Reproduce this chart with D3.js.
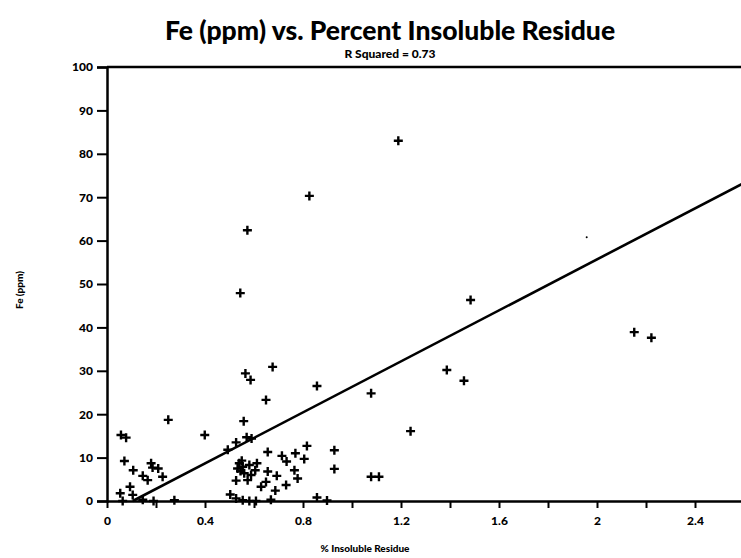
<!DOCTYPE html>
<html>
<head>
<meta charset="utf-8">
<script src="https://cdn.jsdelivr.net/npm/d3@7"></script>
<style>
  html, body { margin: 0; padding: 0; background: #fff; }
  svg { display: block; }
  text { font-family: Lato, "DejaVu Sans", sans-serif; font-weight: 900; fill: #000; }
</style>
</head>
<body>
<svg id="chart" width="741" height="558"></svg>
<script>
// ---- data ----
const titleText = "Fe (ppm) vs. Percent Insoluble Residue";
const subtitleText = "R Squared = 0.73";
const xAxisTitle = "% Insoluble Residue";
const yAxisTitle = "Fe (ppm)";

const xTickValues = [0, 0.2, 0.4, 0.6, 0.8, 1.0, 1.2, 1.4, 1.6, 1.8, 2.0, 2.2, 2.4, 2.6];
const xTickLabels = ["0", "", "0.4", "", "0.8", "", "1.2", "", "1.6", "", "2", "", "2.4", ""];
const yTickValues = [0, 10, 20, 30, 40, 50, 60, 70, 80, 90, 100];

const pointsX = [
  1.189, 0.826, 0.573, 0.544, 1.484, 2.152, 2.222, 0.676, 0.565, 0.586,
  1.387, 1.457, 0.857, 1.078, 0.649, 0.250, 0.558, 1.239, 0.399, 0.057,
  0.078, 0.570, 0.590, 0.527, 0.493, 0.656, 0.714, 0.769, 0.816, 0.928,
  0.733, 0.805, 0.928, 1.078, 1.110, 0.857, 0.898,
  0.540, 0.554, 0.533, 0.581, 0.612, 0.605, 0.560, 0.588, 0.656, 0.693,
  0.765, 0.778, 0.527, 0.574, 0.649, 0.629, 0.731, 0.687, 0.503, 0.527,
  0.554, 0.581, 0.608, 0.669, 0.550, 0.545,
  0.071, 0.107, 0.146, 0.166, 0.180, 0.186, 0.209, 0.227, 0.094, 0.054,
  0.105, 0.146, 0.064, 0.190, 0.275
];
const pointsY = [
  83.0, 70.3, 62.4, 47.9, 46.3, 38.9, 37.6, 30.9, 29.4, 27.9,
  30.2, 27.7, 26.5, 24.8, 23.3, 18.7, 18.4, 16.1, 15.2, 15.2,
  14.6, 14.7, 14.4, 13.5, 11.8, 11.3, 10.4, 11.0, 12.7, 11.7,
  9.1, 9.7, 7.4, 5.6, 5.6, 0.8, 0.1,
  8.7, 7.9, 7.5, 8.3, 8.7, 7.1, 6.4, 6.0, 6.8, 5.8,
  7.1, 5.2, 4.7, 4.8, 4.4, 3.3, 3.7, 2.4, 1.5, 0.6,
  0.2, 0.0, 0.0, 0.3, 9.3, 6.9,
  9.2, 7.1, 5.8, 4.8, 8.7, 7.7, 7.5, 5.6, 3.3, 1.8,
  1.4, 0.3, 0.0, 0.0, 0.2
];

// stray speck in the original
const speckX = [1.958];
const speckY = [60.8];

// regression line endpoints
const fitX = [0.105, 2.6];
const fitY = [0.0, 73.3];

// ---- drawing ----
const svg = d3.select("#chart");
const x = d3.scaleLinear().domain([0, 2.6]).range([107, 744]);
const y = d3.scaleLinear().domain([0, 100]).range([501, 67]);

// title
svg.append("text").attr("x", 390).attr("y", 40).attr("text-anchor", "middle")
  .style("font-size", "26.5px").text(titleText);
svg.append("text").attr("x", 390).attr("y", 58).attr("text-anchor", "middle")
  .style("font-size", "12px").text(subtitleText);

// top border
svg.append("line").attr("x1", x(0)).attr("x2", 741)
  .attr("y1", y(100)).attr("y2", y(100))
  .attr("stroke", "#000").attr("stroke-width", 2.5);

// y axis
const yAxis = d3.axisLeft(y).tickValues(yTickValues).tickSize(10).tickPadding(4)
  .tickFormat(d3.format("d"));
const gy = svg.append("g").attr("transform", `translate(${x(0)},0)`).call(yAxis);
gy.select(".domain").attr("stroke-width", 2.5);
gy.selectAll(".tick line").attr("stroke-width", 2);
gy.selectAll(".tick text").style("font-size", "12px").style("font-weight", 900)
  .style("font-family", "Lato, sans-serif");

// x axis
const xAxis = d3.axisBottom(x).tickValues(xTickValues).tickSize(7).tickPadding(8)
  .tickSizeOuter(0)
  .tickFormat((d, i) => xTickLabels[i]);
const gx = svg.append("g").attr("transform", `translate(0,${y(0)})`).call(xAxis);
gx.select(".domain").attr("stroke-width", 2.5);
gx.selectAll(".tick line").attr("stroke-width", 2);
gx.selectAll(".tick text").style("font-size", "12px").style("font-weight", 900)
  .style("font-family", "Lato, sans-serif");

// axis titles
svg.append("text").attr("x", 365).attr("y", 552).attr("text-anchor", "middle")
  .style("font-size", "10px").text(xAxisTitle);
svg.append("text").attr("transform", "translate(23,290) rotate(-90)")
  .attr("text-anchor", "middle").style("font-size", "10px").text(yAxisTitle);

// regression line
const fitData = fitX.map((v, i) => [v, fitY[i]]);
svg.append("path").datum(fitData)
  .attr("d", d3.line().x(d => x(d[0])).y(d => y(d[1])))
  .attr("fill", "none").attr("stroke", "#000").attr("stroke-width", 2.6);

// points as plus marks
const pts = pointsX.map((v, i) => [v, pointsY[i]]);
const arm = 4.5;
svg.append("g").selectAll("path").data(pts).join("path")
  .attr("d", d => {
    const cx = x(d[0]), cy = y(d[1]);
    return `M${cx - arm},${cy}H${cx + arm}M${cx},${cy - arm}V${cy + arm}`;
  })
  .attr("stroke", "#000").attr("stroke-width", 2.4).attr("fill", "none");

// speck
svg.append("g").selectAll("circle").data(speckX.map((v, i) => [v, speckY[i]])).join("circle")
  .attr("cx", d => x(d[0])).attr("cy", d => y(d[1])).attr("r", 1).attr("fill", "#000");
</script>
</body>
</html>
